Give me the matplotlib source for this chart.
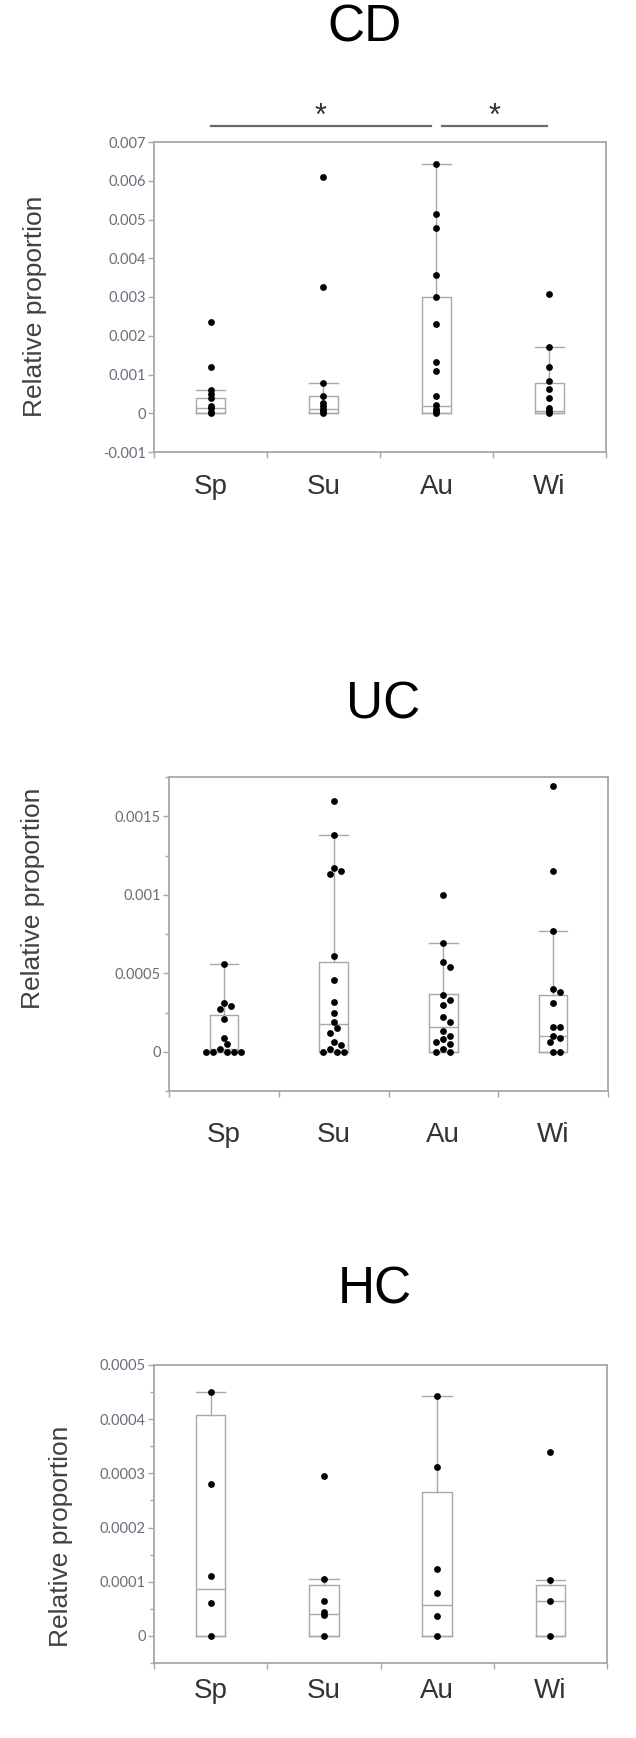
import numpy as np
import matplotlib
matplotlib.use("Agg")
import matplotlib.pyplot as plt
from matplotlib.ticker import FixedLocator, FixedFormatter

# seasons
seasons = ["Sp", "Su", "Au", "Wi"]

# ---- CD: points
cd_sp = [0.00236, 0.00119, 0.0006, 0.0005, 0.0004, 0.0002, 0.00013, 0.00003, 0.0]
cd_su = [0.00609, 0.00326, 0.00079, 0.00045, 0.00026, 0.00018, 0.00012, 0.00005, 0.0]
cd_au = [0.00643, 0.00515, 0.00478, 0.00357, 0.003, 0.0023, 0.00131, 0.00108,
         0.00045, 0.00021, 0.00012, 0.00005, 0.0]
cd_wi = [0.00307, 0.00171, 0.00119, 0.00082, 0.00062, 0.00039, 0.00013, 0.00005, 0.0]
# box stats (q1, median, q3, lower whisker, upper whisker) per season
cd_q1 = [0.0, 0.0, 0.0, 0.0]
cd_med = [0.00013, 0.0001, 0.0002, 0.00005]
cd_q3 = [0.0004, 0.00045, 0.003, 0.00078]
cd_wlo = [0.0, 0.0, 0.0, 0.0]
cd_whi = [0.0006, 0.00079, 0.00643, 0.00171]
cd_ticks = [-0.001, 0, 0.001, 0.002, 0.003, 0.004, 0.005, 0.006, 0.007]
cd_ticklabels = ["-0.001", "0", "0.001", "0.002", "0.003", "0.004", "0.005", "0.006", "0.007"]

# ---- UC
uc_sp = [0.000557, 0.00031, 0.00029, 0.00027, 0.00021, 0.00009, 0.00005, 0.00002,
         0.0, 0.0, 0.0, 0.0, 0.0]
uc_su = [0.0016, 0.00138, 0.00117, 0.00115, 0.00113, 0.00061, 0.00046, 0.00032,
         0.00025, 0.00019, 0.00015, 0.00012, 0.00006, 0.00004, 0.00002, 0.0, 0.0, 0.0]
uc_au = [0.001, 0.00069, 0.00057, 0.00054, 0.00036, 0.00033, 0.0003, 0.00022,
         0.00019, 0.00013, 0.0001, 0.00008, 0.00006, 0.00005, 0.00002, 0.0, 0.0]
uc_wi = [0.00169, 0.00115, 0.00077, 0.0004, 0.00038, 0.00031, 0.00016, 0.00016,
         0.0001, 0.00009, 0.00006, 0.0, 0.0]
uc_q1 = [0.0, 0.0, 0.0, 0.0]
uc_med = [0.00002, 0.000174, 0.00016, 0.0001]
uc_q3 = [0.000234, 0.000574, 0.000366, 0.00036]
uc_wlo = [0.0, 0.0, 0.0, 0.0]
uc_whi = [0.000557, 0.00138, 0.00069, 0.00077]
uc_ticks = [0, 0.0005, 0.001, 0.0015]
uc_ticklabels = ["0", "0.0005", "0.001", "0.0015"]
uc_minor = [-0.00025, 0.00025, 0.00075, 0.00125, 0.00175]

# ---- HC
hc_sp = [0.000451, 0.00028, 0.00011, 0.00006, 0.0]
hc_su = [0.000296, 0.000105, 0.000064, 0.000044, 0.000038, 0.0]
hc_au = [0.000442, 0.000311, 0.000124, 0.00008, 0.000037, 0.0]
hc_wi = [0.000339, 0.000103, 0.000064, 0.0]
hc_q1 = [0.0, 0.0, 0.0, 0.0]
hc_med = [0.000087, 0.000041, 0.000057, 0.000064]
hc_q3 = [0.000407, 0.000094, 0.000266, 0.000094]
hc_wlo = [0.0, 0.0, 0.0, 0.0]
hc_whi = [0.000451, 0.000105, 0.000442, 0.000103]
hc_ticks = [0, 0.0001, 0.0002, 0.0003, 0.0004, 0.0005]
hc_ticklabels = ["0", "0.0001", "0.0002", "0.0003", "0.0004", "0.0005"]
hc_minor = [-0.00005, 0.00005, 0.00015, 0.00025, 0.00035, 0.00045]

W, H = 636, 1738
fig = plt.figure(figsize=(W / 100, H / 100), dpi=100)

grey = "#a8a8a8"
tickcol = "#6e6a78"
labelfont = "Liberation Sans"


def px_axes(left, top, right, bottom):
    return fig.add_axes([left / W, 1 - bottom / H, (right - left) / W, (bottom - top) / H])


def swarm(vals, ax, ylim, spacing):
    # simple beeswarm so overlapping dots spread sideways (pixel space)
    pos = ax.get_position()
    ys = pos.height * H / (ylim[1] - ylim[0])
    xs = pos.width * W / 4.0
    placed = []
    offs = []
    for v in vals:
        yp = v * ys
        for k in [0, 1, -1, 2, -2, 3, -3, 4, -4, 5, -5]:
            xp = k * spacing * 0.5
            if all((xp - a) ** 2 + (yp - b) ** 2 >= (spacing * 0.9) ** 2 for a, b in placed):
                break
        placed.append((xp, yp))
        offs.append(xp / xs)
    return np.array(offs)


def panel(ax, groups, q1, med, q3, wlo, whi, ylim, ticks, ticklabels, minor, jitter, xpad):
    pos = np.arange(4) + 0.5
    stats = []
    for i in range(4):
        stats.append(dict(q1=q1[i], med=med[i], q3=q3[i], whislo=wlo[i], whishi=whi[i], fliers=[]))
    lp = dict(color=grey, linewidth=1.0)
    ax.bxp(stats, positions=pos, widths=0.26, showfliers=False, capwidths=0.26,
           boxprops=lp, whiskerprops=lp, capprops=lp, medianprops=lp, manage_ticks=False)
    for i, g in enumerate(groups):
        g = np.array(g)
        if jitter:
            xo = swarm(g, ax, ylim, 7.0)
        else:
            xo = np.zeros(len(g))
        ax.scatter(pos[i] + xo, g, s=24, color="black", zorder=3, linewidths=0)
    ax.set_xlim(0, 4)
    ax.set_ylim(*ylim)
    ax.set_xticks(pos)
    ax.set_xticklabels(seasons, fontsize=20, family=labelfont, color="#333333")
    ax.xaxis.set_minor_locator(FixedLocator([0, 1, 2, 3, 4]))
    ax.tick_params(axis="x", which="major", length=0, pad=xpad)
    ax.tick_params(axis="x", which="minor", length=4, color=grey, width=1)
    ax.yaxis.set_major_locator(FixedLocator(ticks))
    ax.yaxis.set_major_formatter(FixedFormatter(ticklabels))
    if minor:
        ax.yaxis.set_minor_locator(FixedLocator(minor))
    ax.tick_params(axis="y", which="major", length=4, color=grey, width=1, pad=2,
                   labelsize=10.5, labelcolor=tickcol)
    ax.tick_params(axis="y", which="minor", length=3, color=grey, width=1)
    for lab in ax.get_yticklabels():
        lab.set_family("Lato")
    for s in ax.spines.values():
        s.set_color(grey)
        s.set_linewidth(1.3)


# CD
ax1 = px_axes(154, 142, 606, 452)
panel(ax1, [cd_sp, cd_su, cd_au, cd_wi], cd_q1, cd_med, cd_q3, cd_wlo, cd_whi,
      (-0.001, 0.007), cd_ticks, cd_ticklabels, None, False, 16)
tr = ax1.get_xaxis_transform()
ax1.plot([0.5, 2.45], [1.052, 1.052], transform=tr, color="#6a6a6a", lw=1.6, clip_on=False)
ax1.plot([2.55, 3.48], [1.052, 1.052], transform=tr, color="#6a6a6a", lw=1.6, clip_on=False)
ax1.text(1.47, 1.055, "*", transform=tr, ha="center", va="baseline", fontsize=22,
         family=labelfont, color="#333333")
ax1.text(3.01, 1.055, "*", transform=tr, ha="center", va="baseline", fontsize=22,
         family=labelfont, color="#333333")
fig.text(365 / W, 1 - 28 / H, "CD", ha="center", va="center", fontsize=37, family=labelfont)
fig.text(35 / W, 1 - 306 / H, "Relative proportion", rotation=90, ha="center", va="center",
         fontsize=19, family=labelfont, color="#404040")

# UC
ax2 = px_axes(169, 777, 608, 1091)
panel(ax2, [uc_sp, uc_su, uc_au, uc_wi], uc_q1, uc_med, uc_q3, uc_wlo, uc_whi,
      (-0.00025, 0.00175), uc_ticks, uc_ticklabels, uc_minor, True, 22)
fig.text(383 / W, 1 - 705 / H, "UC", ha="center", va="center", fontsize=37, family=labelfont)
fig.text(33 / W, 1 - 898 / H, "Relative proportion", rotation=90, ha="center", va="center",
         fontsize=19, family=labelfont, color="#404040")

# HC
ax3 = px_axes(154, 1365, 607, 1663)
panel(ax3, [hc_sp, hc_su, hc_au, hc_wi], hc_q1, hc_med, hc_q3, hc_wlo, hc_whi,
      (-0.00005, 0.0005), hc_ticks, hc_ticklabels, hc_minor, False, 11)
fig.text(375 / W, 1 - 1290 / H, "HC", ha="center", va="center", fontsize=37, family=labelfont)
fig.text(61 / W, 1 - 1536 / H, "Relative proportion", rotation=90, ha="center", va="center",
         fontsize=19, family=labelfont, color="#404040")

fig.savefig("out.png", dpi=100, facecolor="white")
